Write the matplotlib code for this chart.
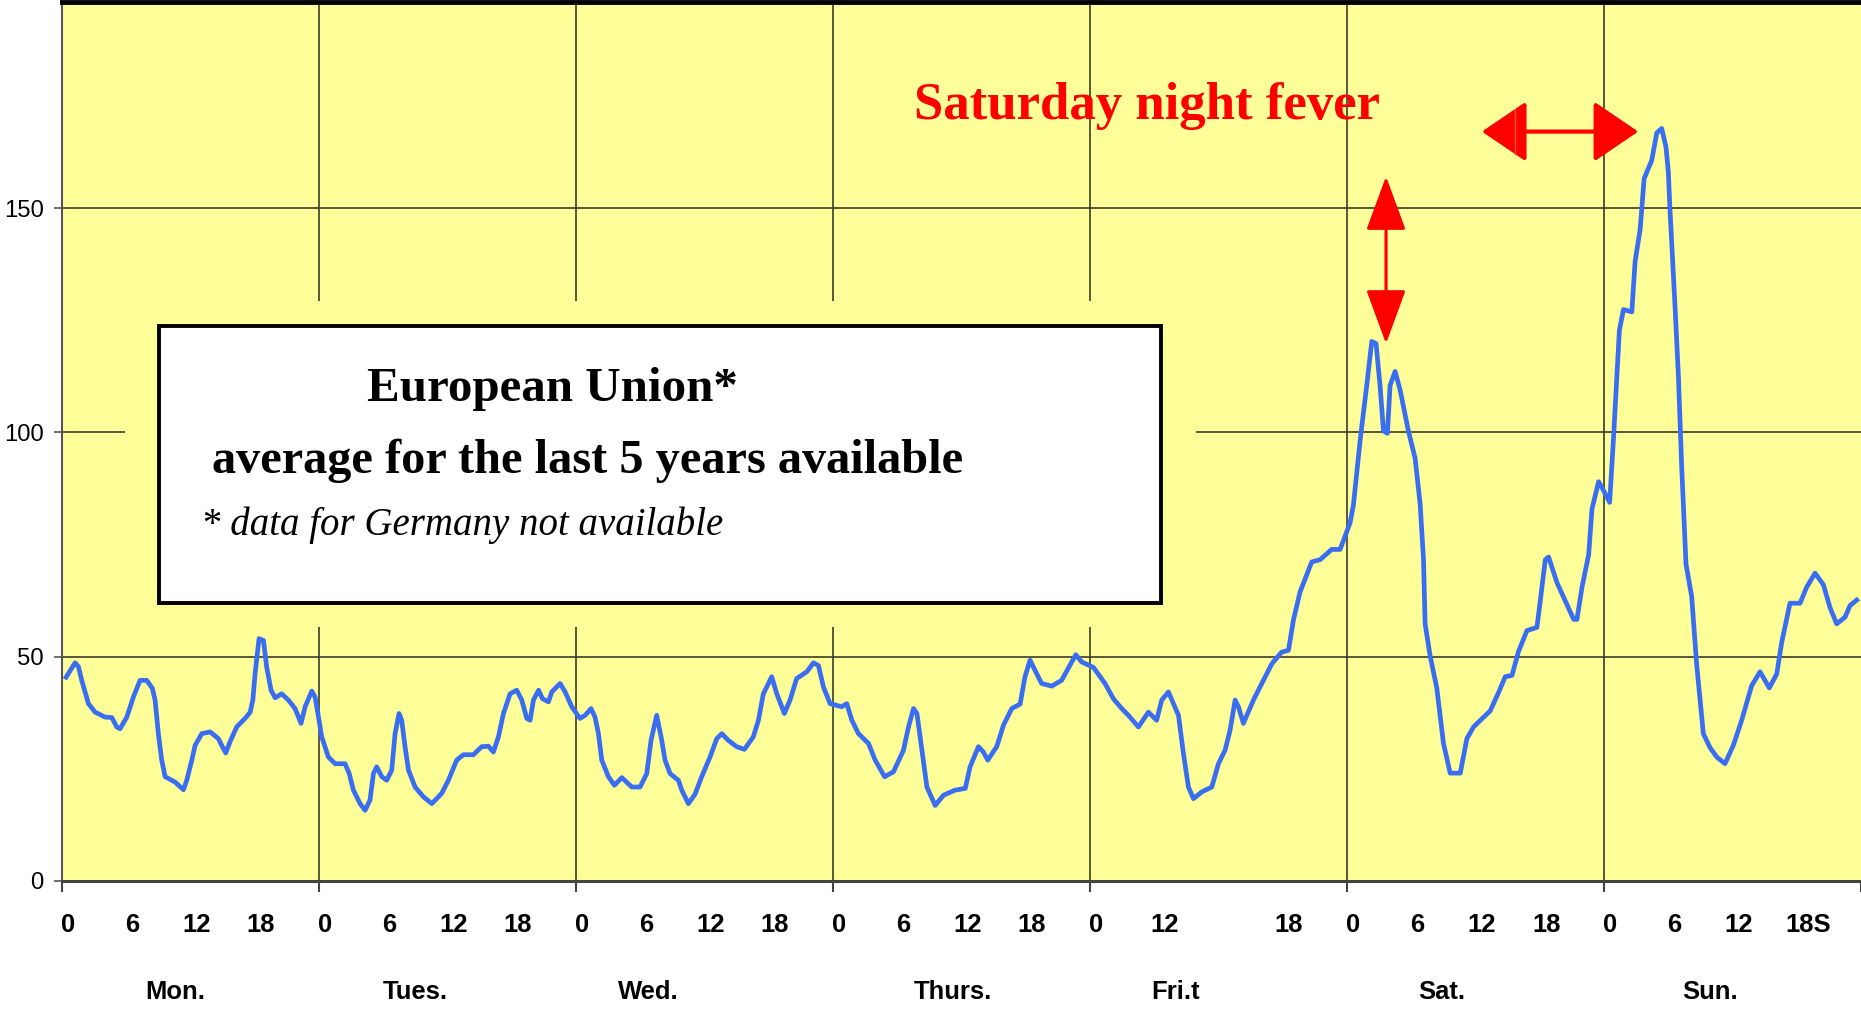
import matplotlib
matplotlib.use("Agg")
import matplotlib.pyplot as plt
from matplotlib import font_manager
from matplotlib.patches import Rectangle, FancyArrowPatch
from matplotlib.transforms import blended_transform_factory

# Hourly profile over one week (hours from Monday 0:00)
hours = [
    0.4, 1.24, 1.55, 1.86, 2.49, 3.11, 4.04, 4.67, 5.13, 5.44, 6.07, 6.69, 7.31, 7.93,
    8.46, 8.71, 9.02, 9.33, 9.65, 10.58, 11.36, 11.67, 12.14, 12.45, 13.07, 13.85,
    14.62, 14.93, 15.31, 15.71, 16.33, 17.11, 17.59, 17.84, 18.05, 18.42, 18.83, 19.13,
    19.54, 19.92, 20.53, 21.16, 21.78, 22.34, 22.72, 23.34, 23.65, 23.97, 24.27, 24.89,
    25.52, 26.45, 26.84, 27.23, 27.85, 28.32, 28.78, 29.10, 29.41, 29.88, 30.34, 30.81,
    31.12, 31.49, 31.74, 32.05, 32.37, 32.99, 33.77, 34.55, 35.48, 36.10, 36.87, 37.50,
    38.43, 39.21, 39.84, 40.30, 40.77, 41.24, 41.86, 42.48, 42.95, 43.42, 43.73, 44.04,
    44.52, 44.88, 45.44, 45.75, 46.53, 47.00, 47.62, 48.39, 48.87, 49.42, 49.79, 50.11,
    50.42, 51.04, 51.60, 52.29, 53.22, 54.00, 54.62, 55.02, 55.55, 55.96, 56.33, 56.80,
    57.58, 57.89, 58.51, 59.13, 59.75, 60.53, 61.16, 61.63, 62.24, 63.02, 63.74, 64.57,
    65.05, 65.51, 66.29, 66.76, 67.47, 68.00, 68.62, 69.56, 70.19, 70.65, 71.12, 71.74,
    72.83, 73.30, 73.77, 74.39, 75.33, 75.95, 76.83, 77.66, 78.59, 79.06, 79.53, 79.85,
    80.31, 80.78, 81.55, 82.34, 83.41, 84.36, 84.81, 85.59, 86.06, 86.46, 87.30, 87.93,
    88.70, 89.48, 89.94, 90.41, 90.88, 91.49, 92.43, 93.36, 94.14, 94.68, 95.23, 96.32,
    97.41, 98.19, 98.97, 99.59, 100.53, 101.46, 102.23, 102.71, 103.33, 104.27, 104.73,
    105.20, 105.67, 106.44, 107.38, 108.00, 108.62, 109.09, 109.56, 109.87, 110.33,
    111.27, 112.05, 112.99, 113.91, 114.54, 115.00, 115.62, 116.71, 117.49, 118.58,
    119.36, 120.29, 120.61, 121.23, 121.85, 122.32, 122.72, 123.09, 123.41, 123.78,
    124.03, 124.50, 124.96, 125.74, 126.37, 126.84, 127.15, 127.30, 127.77, 128.39,
    129.01, 129.64, 130.58, 131.20, 131.82, 133.38, 134.16, 134.78, 135.41, 136.03,
    136.81, 137.74, 138.05, 138.52, 138.83, 139.61, 140.39, 141.17, 141.48, 141.95,
    142.57, 142.88, 143.50, 143.97, 144.53, 144.88, 145.44, 145.82, 146.60, 146.91,
    147.38, 147.75, 148.46, 148.93, 149.39, 149.79, 150.01, 150.17, 150.64, 150.95,
    151.26, 151.66, 152.19, 152.66, 153.28, 153.90, 154.53, 155.30, 156.08, 156.86,
    157.79, 158.57, 159.44, 160.13, 160.60, 161.37, 162.31, 162.93, 163.71, 164.49,
    165.11, 165.73, 166.51, 166.98, 167.60,
]
values = [
    45.4, 48.6, 47.8, 44.7, 39.5, 37.6, 36.5, 36.4, 34.3, 33.9, 36.5, 41.0, 44.7, 44.7,
    42.9, 40.3, 32.8, 26.9, 23.2, 22.0, 20.3, 22.4, 26.9, 30.2, 32.8, 33.2,
    31.7, 30.2, 28.5, 31.0, 34.3, 36.2, 37.6, 40.3, 46.2, 54.0, 53.6, 47.7,
    42.5, 40.8, 41.7, 40.3, 38.4, 35.1, 38.8, 42.3, 41.0, 36.5, 32.1, 27.6,
    26.1, 26.1, 23.9, 20.2, 17.2, 15.7, 18.0, 23.9, 25.4, 23.2, 22.4, 24.7,
    32.8, 37.3, 35.8, 29.9, 24.7, 20.9, 18.7, 17.2, 19.5, 22.4, 26.9, 28.1,
    28.1, 29.9, 30.0, 28.7, 32.1, 37.3, 41.7, 42.5, 40.3, 36.2, 35.8, 40.3,
    42.5, 40.6, 39.9, 42.1, 44.0, 42.1, 38.8, 36.2, 36.9, 38.4, 36.5, 32.8,
    26.9, 23.2, 21.3, 23.0, 20.9, 20.9, 23.9, 31.3, 36.9, 32.1, 26.9, 23.9,
    22.4, 20.2, 17.2, 19.3, 23.2, 27.6, 31.7, 32.8, 31.3, 29.9, 29.3, 32.1,
    35.8, 41.7, 45.5, 41.7, 37.3, 40.3, 45.1, 46.6, 48.6, 48.0, 43.2, 39.5,
    38.8, 39.5, 35.8, 32.8, 30.6, 26.9, 23.2, 24.3, 29.1, 34.3, 38.4, 37.3,
    29.1, 20.9, 16.8, 19.1, 20.2, 20.6, 25.4, 29.9, 28.7, 26.9, 29.9, 34.7,
    38.4, 39.4, 45.5, 49.2, 46.9, 44.0, 43.4, 44.7, 48.1, 50.4, 48.8, 47.6,
    44.0, 40.6, 38.4, 36.9, 34.3, 37.6, 35.8, 40.3, 42.1, 36.9, 28.4,
    20.9, 18.3, 19.8, 20.9, 26.1, 29.1, 33.6, 40.3, 38.8, 35.1,
    40.3, 44.0, 48.4, 51.0, 51.4, 58.1, 64.4, 71.1, 71.6, 73.9,
    73.9, 79.8, 83.9, 98.2, 110.5, 120.3, 119.8, 110.5, 100.3, 99.8,
    110.5, 113.6, 109.5, 100.3, 94.2, 83.9, 71.6, 57.3, 50.1, 43.0,
    30.7, 24.0, 24.0, 31.7, 34.3, 37.9, 42.0, 45.5, 45.8, 51.2,
    55.8, 56.5, 62.4, 71.6, 72.2, 66.5, 62.4, 58.3, 58.3, 65.5,
    72.7, 82.9, 89.0, 87.0, 84.4, 98.3, 122.8, 127.4, 126.9, 138.2,
    145.3, 156.6, 160.7, 166.8, 167.8, 163.7, 158.1, 149.4, 127.9, 112.6,
    92.1, 70.6, 63.4, 48.1, 32.8, 29.7, 27.6, 26.1, 30.2, 35.8,
    43.5, 46.6, 43.0, 46.1, 53.2, 61.9, 61.9, 65.5, 68.6, 66.0,
    60.9, 57.3, 58.8, 61.4, 62.6,
]

# axis labels
hour_labels = ["0", "6", "12", "18", "0", "6", "12", "18", "0", "6", "12", "18",
               "0", "6", "12", "18", "0", "12", "18", "0", "6", "12", "18",
               "0", "6", "12", "18S"]
hour_label_pos = [0, 6, 12, 18, 24, 30, 36, 42, 48, 54, 60, 66,
                  72, 78, 84, 90, 96, 102.4, 114, 120, 126, 132, 138,
                  144, 150, 156, 162.5]
day_names = ["Mon.", "Tues.", "Wed.", "Thurs.", "Fri.t", "Sat.", "Sun."]
day_name_pos = [10.6, 33.0, 54.8, 83.2, 104.0, 128.9, 153.9]
day_starts = [0, 24, 48, 72, 96, 120, 144, 168]
y_ticks = [0, 50, 100, 150]

installed = {f.name for f in font_manager.fontManager.ttflist}
narrow = "Liberation Sans Narrow" in installed
sans = "Liberation Sans Narrow" if narrow else "Liberation Sans"
serif = "Liberation Serif"
k = 1.0 if narrow else 0.88

bg = "#FFFF99"
blue = "#3A6EF2"
red = "#FF0000"
grid_c = "#3a3a2a"

fig = plt.figure(figsize=(18.61, 10.10), dpi=100, facecolor="white")
ax = fig.add_axes([0.0332, 0.128, 0.9668, 0.870])
ax.set_facecolor(bg)
ax.set_xlim(0, 168)
ax.set_ylim(0, 196)

# grid lines
for y in [50, 100, 150]:
    ax.axhline(y, color=grid_c, lw=1.4, alpha=0.85, zorder=1)
for d in day_starts[1:-1]:
    ax.axvline(d, color=grid_c, lw=1.4, alpha=0.85, zorder=1)

# text box with yellow margin hiding the grid
ax.add_patch(Rectangle((5.9, 56.6), 100.0, 72.8, facecolor=bg, edgecolor="none", zorder=1.5))
ax.add_patch(Rectangle((9.1, 61.9), 93.5, 61.9, facecolor="white", edgecolor="black",
                       lw=2.8, zorder=2))

ax.plot(hours, values, color=blue, lw=3.4, zorder=3, solid_joinstyle="round")

ax.text(45.8, 106.9, "European Union*", family=serif, weight="bold", fontsize=35.3,
        ha="center", va="baseline", zorder=5)
ax.text(49.1, 91.0, "average for the last 5 years available", family=serif, weight="bold",
        fontsize=34.8, ha="center", va="baseline", zorder=5)
ax.text(37.4, 77.2, "* data for Germany not available", family=serif, style="italic",
        fontsize=28, ha="center", va="baseline", zorder=5)

ax.text(101.3, 170.0, "Saturday night fever", family=serif, weight="bold", fontsize=38,
        color=red, ha="center", va="baseline", zorder=5)

# arrows
ax.add_patch(FancyArrowPatch((123.65, 119.8), (123.65, 157.1), arrowstyle="<|-|>,head_length=34,head_width=12.5",
                             mutation_scale=1, color=red, lw=2.3, shrinkA=0, shrinkB=0, zorder=6))
ax.add_patch(FancyArrowPatch((132.6, 167.1), (147.2, 167.1), arrowstyle="<|-|>,head_length=28,head_width=19",
                             mutation_scale=1, color=red, lw=3.0, shrinkA=0, shrinkB=0, zorder=6))
ax.plot([135.7, 135.7], [162.2, 172.2], color="#FF5030", lw=1.0, zorder=6)

# spines
ax.spines["right"].set_visible(False)
ax.spines["top"].set_linewidth(3.5)
ax.spines["top"].set_color("black")
ax.spines["left"].set_color("#555555")
ax.spines["left"].set_linewidth(1.5)
ax.spines["bottom"].set_color("#444444")
ax.spines["bottom"].set_linewidth(2.2)

ax.set_yticks(y_ticks)
ax.set_yticklabels([str(v) for v in y_ticks], family=sans, fontsize=19.5 * k)
ax.tick_params(axis="y", length=6, width=1.2, color="#555555", pad=7)

ax.set_xticks(day_starts)
ax.set_xticklabels([""] * len(day_starts))
ax.tick_params(axis="x", which="major", length=8, width=1.5, color="#444444")
ax.set_xticks([p + 0.6 for p in hour_label_pos], hour_labels, minor=True)
ax.tick_params(axis="x", which="minor", length=0, pad=23)
for t in ax.get_xticklabels(minor=True):
    t.set_family(sans)
    t.set_fontweight("bold")
    t.set_fontsize(21 * k)

tr = blended_transform_factory(ax.transData, ax.transAxes)
for name, pos in zip(day_names, day_name_pos):
    ax.text(pos, -0.1265, name, transform=tr, family=sans, weight="bold",
            fontsize=21 * k, ha="center", va="center")

fig.savefig("out.png", dpi=100, facecolor="white")
